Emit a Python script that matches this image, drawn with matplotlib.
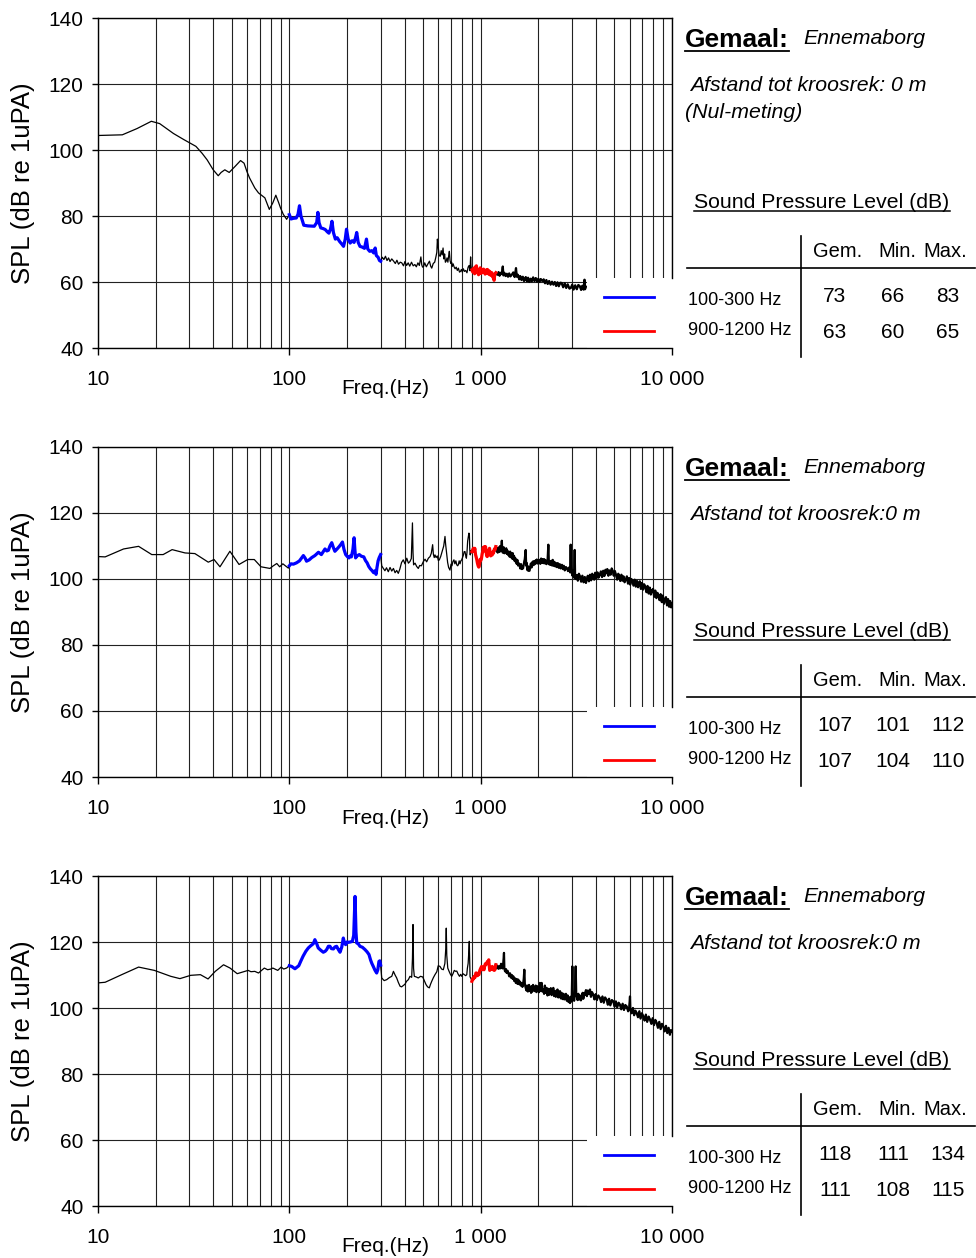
import matplotlib
matplotlib.use("Agg")
import matplotlib.pyplot as plt
import numpy as np
from matplotlib.lines import Line2D
from matplotlib.patches import Rectangle
from matplotlib.ticker import NullFormatter

plt.rcParams['font.family'] = ['Liberation Sans', 'DejaVu Sans']

spec_nul = [
    (10, 104.4), (13.4, 104.6), (16, 106.5), (19, 108.7), (21, 108.0), (24.8, 105.0), (28, 103.2),
    (32.5, 101.1), (35, 99.0), (37.2, 97.0), (40, 94.0), (42.5, 92.2), (44, 93.2), (46, 94.0),
    (48.5, 93.2), (52, 95.0), (55.6, 96.8), (58, 96.0), (60, 93.5), (62, 91.5), (66, 88.5), (69, 87.0),
    (74.5, 85.5), (78.6, 82.0), (82, 84.0), (85, 86.3), (88, 84.0), (90, 82.4), (93, 80.5), (96.8, 79.0),
    (100, 80.4), (102, 79.1), (105, 79.3), (108.7, 79.4), (111, 80.5), (113, 83.1), (115, 80.0),
    (119, 77.2), (125, 77.0), (135, 76.9), (139, 78.0), (141, 81.1), (143, 78.0), (146, 76.4),
    (150, 76.2), (154, 75.9), (158, 75.2), (161, 74.8), (164, 76.0), (167, 78.4), (170, 75.0),
    (174, 73.0), (178, 73.4), (183, 72.3), (188, 71.5), (192, 70.8), (196, 73.0), (199, 76.0),
    (203, 73.0), (208, 71.8), (213, 72.5), (218, 72.0), (222, 73.5), (225, 75.0), (229, 72.0),
    (234, 70.8), (240, 70.6), (247, 70.2), (253, 73.0), (257, 70.0), (263, 69.3), (270, 69.5),
    (276, 68.8), (281, 70.3), (285, 68.0), (291, 67.5), (296, 66.5), (300, 66.3),
    (306, 67.5), (312, 66.8), (318, 67.8), (324, 66.5), (330, 67.3), (336, 66.2), (343, 67.0),
    (351, 66.3), (358, 65.6), (365, 66.6), (372, 65.4), (380, 66.0), (387, 65.8), (395, 64.9),
    (402, 66.2), (410, 65.0), (418, 65.8), (426, 64.8), (435, 66.0), (444, 64.9), (453, 65.3),
    (461, 64.6), (470, 65.8), (478, 65.0), (487, 67.6), (492, 65.2), (497, 64.5), (503, 64.7),
    (510, 65.8), (520, 64.6), (530, 65.5), (540, 66.3), (548, 64.8), (555, 64.2), (565, 65.6),
    (575, 66.0), (583, 67.5), (590, 69.0), (594, 73.0), (600, 70.5), (607, 68.0), (615, 67.8),
    (622, 69.5), (629, 68.2), (636, 70.3), (642, 67.0), (648, 68.5), (654, 66.0), (660, 66.3),
    (667, 67.3), (674, 66.0), (680, 67.8), (686, 69.3), (692, 66.5), (699, 65.6), (705, 66.0),
    (710, 64.7), (718, 65.5), (726, 64.6), (735, 64.0), (745, 64.5), (755, 63.5), (765, 64.2),
    (775, 63.0), (784, 63.2), (793, 63.8), (802, 63.0), (812, 64.0), (823, 63.2), (835, 63.5),
    (848, 62.8), (860, 64.5), (870, 65.0), (880, 63.4), (886, 67.6), (890, 65.0), (895, 63.8),
    (900, 63.7), (910, 63.0), (920, 64.2), (930, 62.5), (940, 64.6), (950, 64.9), (958, 62.8),
    (966, 63.8), (975, 62.2), (985, 63.6), (995, 64.3), (1005, 62.6), (1015, 63.8), (1025, 62.9),
    (1035, 63.9), (1045, 63.3), (1055, 62.4), (1065, 63.6), (1075, 62.8), (1085, 63.8), (1095, 62.5),
    (1105, 63.4), (1115, 62.2), (1125, 63.0), (1135, 62.0), (1145, 62.8), (1155, 61.5), (1165, 62.2),
    (1175, 60.5), (1185, 62.4), (1200, 62.8), (1215, 62.3), (1225, 62.2), (1240, 63.0), (1255, 61.9),
    (1270, 62.8), (1290, 62.4), (1305, 64.7), (1315, 62.0), (1330, 62.8), (1350, 61.8), (1370, 62.5),
    (1390, 61.6), (1410, 62.6), (1430, 61.7), (1455, 62.2), (1480, 62.9), (1505, 61.5), (1530, 64.2),
    (1545, 61.6), (1565, 62.2), (1590, 60.8), (1610, 61.8), (1635, 60.6), (1660, 61.6), (1685, 60.3),
    (1700, 60.7), (1720, 61.5), (1745, 60.2), (1770, 61.3), (1795, 60.0), (1825, 61.0), (1850, 60.2),
    (1880, 61.4), (1910, 60.3), (1940, 61.2), (1970, 60.1), (2000, 61.0), (2030, 60.0), (2060, 60.9),
    (2100, 60.3), (2135, 60.8), (2170, 59.6), (2205, 60.6), (2240, 59.4), (2280, 60.3), (2320, 59.2),
    (2360, 60.1), (2400, 59.2), (2440, 60.0), (2480, 58.8), (2520, 59.9), (2560, 58.7), (2610, 59.8),
    (2650, 59.7), (2700, 58.4), (2750, 59.6), (2800, 58.2), (2850, 59.3), (2910, 58.0), (2960, 58.2),
    (3010, 59.2), (3060, 57.7), (3120, 59.0), (3180, 57.8), (3240, 59.1), (3300, 58.7), (3350, 57.6),
    (3400, 58.9), (3450, 57.7), (3490, 60.7), (3510, 57.8), (3550, 58.6),
]

spec_2 = [
    (10, 106.8), (10.9, 106.7), (13.6, 109.1), (16.3, 109.9), (19.1, 107.4), (21.9, 107.4),
    (24.4, 108.9), (28.5, 107.9), (32.1, 107.7), (37.7, 105.1), (40.4, 105.9), (43.4, 103.7),
    (48.9, 108.4), (54.6, 104.4), (60.6, 105.9), (65.6, 105.9), (71.1, 103.7), (79.2, 103.2),
    (82, 103.9), (86, 104.7), (89, 103.7), (92.5, 104.6), (98.8, 103.3),
    (100, 104.0), (102, 104.6), (105, 104.5), (109, 104.9), (113, 105.5), (118.4, 107.1), (121, 106.3),
    (123, 105.4), (127, 105.8), (131, 106.5), (136, 107.1), (142, 108.1), (147, 107.4), (153.6, 109.1),
    (157, 108.5), (160, 108.7), (163, 110.0), (166.6, 111.0), (170, 109.5), (173, 108.4), (177, 109.0),
    (182, 109.8), (186, 110.5), (189.5, 111.2), (193, 109.0), (197, 107.4), (201, 106.8), (205, 106.4),
    (208, 107.0), (211, 106.7), (215, 109.0), (218, 112.5), (220, 109.0), (222, 106.4), (226, 107.0),
    (232, 107.4), (238, 106.9), (245, 106.7), (250, 105.6), (255, 104.9), (260, 103.8), (265, 103.1),
    (270, 102.6), (276, 101.9), (280, 102.5), (284, 101.4), (287, 103.4), (291, 105.5), (295, 106.5),
    (300, 107.4),
    (304, 104.0), (310, 103.2), (316, 102.5), (322, 103.4), (329, 102.2), (336, 103.5), (343, 102.4),
    (350, 103.2), (357, 101.9), (364, 102.6), (371, 101.7), (378, 103.0), (386, 105.0), (394, 105.8),
    (402, 104.6), (411, 106.3), (419, 104.8), (427, 105.3), (434, 106.2), (440, 117.0), (443, 108.0),
    (446, 104.3), (454, 104.8), (463, 103.8), (472, 103.2), (480, 104.1), (490, 104.0), (502, 105.3),
    (512, 106.0), (522, 105.2), (533, 106.3), (544, 106.8), (552, 107.8), (561, 110.4), (566, 107.5),
    (572, 106.5), (577, 107.3), (585, 106.5), (593, 107.0), (601, 105.6), (608, 105.8), (618, 106.8),
    (630, 108.5), (641, 110.0), (646, 111.5), (651, 112.9), (656, 110.5), (664, 107.8), (672, 105.0),
    (680, 103.5), (691, 102.7), (700, 104.5), (708, 104.0), (716, 105.3), (725, 105.8), (733, 104.6),
    (742, 105.5), (750, 104.3), (758, 104.0), (764, 104.3), (772, 105.5), (780, 104.6), (788, 105.5),
    (796, 105.8), (804, 106.5), (812, 107.2), (820, 108.3), (828, 108.3), (836, 107.0), (842, 106.3),
    (848, 108.0), (855, 111.5), (862, 112.8), (868, 113.9), (873, 113.5), (877, 109.0), (882, 107.3),
    (888, 108.6), (894, 107.9), (900, 108.3),
    (908, 108.8), (916, 109.3), (924, 108.4), (932, 109.3), (940, 107.4), (948, 106.6), (955, 105.8),
    (962, 104.8), (970, 104.0), (977, 103.6), (982, 103.8), (988, 104.8), (995, 106.0), (1002, 105.6),
    (1010, 106.3), (1018, 107.6), (1025, 108.3), (1032, 109.6), (1040, 108.5), (1048, 109.8),
    (1055, 108.7), (1060, 109.8), (1068, 108.3), (1075, 107.0), (1082, 106.8), (1090, 107.3),
    (1098, 108.5), (1105, 108.6), (1112, 109.3), (1120, 108.1), (1128, 107.0), (1136, 107.6),
    (1143, 107.3), (1150, 107.3), (1158, 108.2), (1166, 107.8), (1175, 108.8), (1183, 109.2),
    (1190, 108.9), (1200, 109.8),
    (1210, 108.4), (1220, 109.3), (1228, 108.0), (1237, 108.8), (1246, 109.6), (1255, 108.2),
    (1265, 110.0), (1275, 108.5), (1283, 109.5), (1290, 111.6), (1296, 109.0), (1303, 108.0),
    (1310, 108.3), (1320, 109.6), (1330, 107.8), (1340, 109.0), (1350, 108.2), (1360, 109.3),
    (1370, 107.6), (1380, 108.6), (1392, 107.3), (1404, 108.2), (1415, 106.8), (1426, 108.3),
    (1437, 106.6), (1448, 107.8), (1460, 106.2), (1472, 107.8), (1484, 106.0), (1495, 107.0),
    (1507, 105.4), (1518, 106.3), (1530, 105.3), (1542, 104.6), (1555, 105.8), (1568, 104.1),
    (1580, 104.8), (1595, 104.3), (1610, 103.2), (1625, 104.5), (1640, 103.0), (1655, 103.8),
    (1665, 103.2), (1680, 104.5), (1700, 106.0), (1719, 108.8), (1726, 105.5), (1734, 104.0),
    (1742, 104.8), (1750, 103.0), (1760, 102.6), (1772, 103.8), (1785, 102.5), (1800, 102.5),
    (1815, 103.6), (1830, 104.7), (1845, 103.5), (1860, 105.0), (1875, 105.3), (1890, 104.2),
    (1905, 105.4), (1920, 104.5), (1935, 105.6), (1950, 104.8), (1965, 105.9), (1980, 104.7),
    (1995, 105.6), (2010, 104.9), (2030, 105.8), (2050, 104.6), (2070, 106.2), (2090, 104.9),
    (2110, 106.0), (2130, 104.8), (2150, 106.0), (2170, 104.7), (2190, 105.6), (2210, 104.5),
    (2235, 105.3), (2258, 110.4), (2270, 105.0), (2285, 104.4), (2300, 105.3), (2320, 104.3),
    (2340, 105.5), (2360, 104.1), (2380, 105.8), (2405, 104.0), (2430, 105.2), (2455, 103.8),
    (2480, 104.8), (2505, 103.6), (2530, 104.8), (2560, 103.4), (2590, 104.5), (2620, 103.2),
    (2660, 104.3), (2690, 103.0), (2720, 104.0), (2750, 102.6), (2790, 103.6), (2830, 103.2),
    (2860, 102.4), (2900, 103.5), (2935, 102.0), (2954, 110.4), (2970, 104.0), (3000, 101.7),
    (3020, 101.0), (3050, 102.6), (3080, 100.4), (3100, 108.8), (3115, 101.6), (3140, 100.0),
    (3180, 101.2), (3220, 99.5), (3260, 101.6), (3310, 100.7), (3350, 99.2), (3400, 101.0),
    (3450, 99.0), (3500, 100.6), (3550, 98.8), (3580, 99.7), (3630, 101.0), (3680, 99.3),
    (3730, 101.3), (3780, 99.6), (3830, 101.6), (3870, 100.7), (3920, 99.8), (3970, 101.9),
    (4020, 100.2), (4080, 102.0), (4130, 100.4), (4190, 101.2), (4250, 102.3), (4310, 100.6),
    (4370, 102.5), (4430, 100.9), (4490, 102.8), (4530, 101.7), (4590, 103.0), (4650, 101.0),
    (4710, 102.6), (4780, 101.3), (4840, 103.2), (4900, 102.5), (4960, 101.0), (5030, 102.4),
    (5100, 101.2), (5170, 99.8), (5240, 101.6), (5300, 100.7), (5370, 99.4), (5440, 101.3),
    (5510, 99.5), (5580, 100.8), (5650, 99.0), (5730, 99.7), (5810, 100.8), (5890, 98.6),
    (5970, 100.3), (6050, 98.3), (6120, 100.0), (6200, 99.7), (6290, 98.0), (6380, 99.8),
    (6470, 97.7), (6560, 99.4), (6650, 97.5), (6700, 98.7), (6790, 99.3), (6880, 97.0),
    (6970, 98.8), (7060, 96.8), (7150, 98.4), (7250, 97.7), (7350, 96.0), (7450, 97.9),
    (7550, 95.6), (7650, 97.4), (7750, 95.3), (7850, 96.6), (7960, 97.0), (8070, 94.6),
    (8180, 96.5), (8290, 94.2), (8400, 95.8), (8490, 95.1), (8600, 93.6), (8720, 95.4),
    (8840, 93.0), (8960, 95.0), (9080, 92.5), (9180, 93.6), (9300, 94.5), (9420, 92.0),
    (9540, 93.9), (9660, 91.6), (9780, 93.3), (9900, 91.4), (10000, 92.6),
]

spec_3 = [
    (10, 107.6), (10.9, 107.8), (13.3, 110.1), (16.3, 112.4), (19.7, 111.4), (24, 109.6), (26.8, 108.9),
    (30.5, 109.9), (34.3, 110.1), (37.6, 108.8), (41, 111.1), (45.3, 113.1), (49, 112.1), (53.4, 110.4),
    (57, 110.9), (60.9, 111.4), (63, 111.0), (66, 111.1), (69, 110.6), (74, 112.1), (77, 111.6),
    (80, 111.8), (82, 112.1), (87, 111.4), (90.6, 112.4), (93.5, 111.8), (96.7, 112.1), (100, 112.8),
    (102.8, 112.6), (107, 111.9), (112, 112.8), (115, 114.3), (118, 115.7), (122, 117.2), (125.7, 118.2),
    (129, 118.8), (133.5, 119.5), (136, 120.7), (139, 119.5), (141.6, 118.2), (146, 117.5),
    (150.5, 116.9), (154, 117.2), (156.7, 117.7), (160, 118.7), (163, 118.7), (166, 118.0),
    (170, 117.9), (173, 118.5), (176.7, 118.7), (180, 117.8), (184, 116.9), (188, 118.5),
    (191.5, 121.2), (194, 119.8), (197, 119.2), (200, 120.0), (203.5, 119.9), (208, 120.0),
    (213.5, 120.2), (217, 122.0), (220.5, 133.8), (223, 123.0), (225, 119.7), (229, 119.5),
    (234, 118.7), (241, 118.4), (248.6, 117.7), (255, 117.0), (260.8, 116.2), (266, 114.5),
    (270, 113.5), (274.6, 112.6), (280, 111.5), (286, 110.6), (290, 111.6), (294, 114.1),
    (297, 114.3), (300, 113.0),
    (304, 109.1), (313, 108.3), (323, 108.6), (333, 109.2), (343, 109.6), (350, 111.1), (357, 110.0),
    (364, 109.1), (371, 107.8), (379, 106.6), (386, 106.4), (394, 106.8), (402, 107.2), (410, 108.1),
    (419, 108.6), (427, 109.6), (436, 109.3), (440, 115.0), (443, 125.3), (446, 112.0), (450, 109.6),
    (461, 109.4), (472, 109.1), (485, 109.6), (498, 109.4), (508, 108.2), (518, 107.1), (528, 106.4),
    (539, 106.1), (547, 107.2), (555, 108.1), (566, 109.2), (577, 110.1), (590, 111.0), (600, 112.8),
    (613, 112.6), (625, 111.8), (638, 111.6), (650, 113.5), (657, 118.0), (661, 124.2), (665, 116.0),
    (673, 112.1), (685, 111.0), (695, 110.2), (706, 109.6), (718, 110.5), (728, 111.4), (740, 111.1),
    (750, 111.2), (762, 110.3), (775, 109.6), (786, 110.2), (796, 109.6), (808, 110.4), (822, 110.1),
    (835, 109.8), (846, 110.1), (852, 112.0), (860, 113.5), (866, 116.5), (872, 120.2), (876, 114.0),
    (880, 109.5), (886, 109.1), (893, 108.8), (900, 108.1),
    (910, 109.0), (918, 108.8), (926, 109.6), (935, 109.3), (944, 110.6), (953, 110.6), (962, 109.8),
    (971, 110.4), (980, 110.1), (990, 111.4), (1000, 112.0), (1012, 112.6), (1022, 111.6),
    (1032, 112.3), (1041, 111.6), (1050, 112.8), (1058, 113.4), (1065, 113.1), (1075, 113.6),
    (1085, 114.1), (1094, 113.8), (1102, 114.6), (1108, 113.0), (1115, 111.4), (1124, 112.0),
    (1133, 111.8), (1142, 112.4), (1150, 112.6), (1160, 111.6), (1170, 112.0), (1179, 111.4),
    (1187, 111.6), (1194, 112.6), (1200, 113.1),
    (1212, 112.0), (1225, 112.8), (1240, 111.9), (1252, 112.6), (1265, 112.0), (1278, 113.4),
    (1288, 113.1), (1300, 112.0), (1312, 113.2), (1324, 116.7), (1330, 112.0), (1341, 111.1),
    (1355, 111.8), (1368, 110.6), (1382, 111.3), (1395, 110.6), (1410, 109.6), (1425, 110.5),
    (1440, 109.2), (1455, 110.0), (1470, 108.8), (1482, 109.6), (1497, 108.2), (1512, 109.0),
    (1527, 107.6), (1542, 108.8), (1558, 107.3), (1573, 108.6), (1590, 107.2), (1605, 108.0),
    (1620, 106.8), (1637, 107.6), (1653, 106.4), (1671, 107.6), (1680, 109.0), (1691, 111.6),
    (1700, 107.5), (1719, 106.1), (1735, 105.3), (1750, 106.8), (1765, 105.0), (1775, 105.6),
    (1790, 107.0), (1805, 105.2), (1820, 106.4), (1834, 104.6), (1848, 106.6), (1862, 105.0),
    (1878, 107.0), (1895, 105.4), (1910, 106.3), (1923, 105.1), (1940, 106.8), (1958, 104.8),
    (1975, 106.6), (1990, 105.2), (2001, 106.1), (2020, 104.8), (2040, 107.6), (2060, 105.2),
    (2084, 107.6), (2100, 105.0), (2126, 105.6), (2145, 104.3), (2165, 106.8), (2190, 104.6),
    (2213, 106.1), (2235, 103.8), (2260, 105.8), (2280, 104.0), (2303, 104.5), (2325, 106.0),
    (2350, 103.9), (2375, 105.5), (2398, 106.1), (2420, 103.6), (2445, 105.2), (2470, 103.4),
    (2496, 104.0), (2520, 105.6), (2545, 103.2), (2570, 104.8), (2598, 105.1), (2625, 102.9),
    (2650, 104.6), (2680, 102.7), (2710, 104.3), (2735, 102.6), (2759, 103.5), (2790, 104.3),
    (2820, 102.2), (2850, 103.8), (2880, 101.8), (2910, 103.2), (2931, 101.5), (2960, 103.4),
    (2990, 102.0), (3014, 112.6), (3030, 103.5), (3050, 103.5), (3080, 102.2), (3110, 104.3),
    (3138, 112.6), (3160, 103.6), (3175, 104.0), (3210, 102.4), (3240, 104.3), (3270, 102.6),
    (3300, 103.8), (3340, 102.3), (3372, 103.0), (3410, 104.6), (3440, 102.8), (3480, 104.6),
    (3511, 104.0), (3550, 105.4), (3590, 103.6), (3630, 105.3), (3680, 104.2), (3728, 105.6),
    (3770, 103.4), (3820, 104.8), (3880, 104.0), (3930, 102.6), (3990, 104.2), (4050, 102.4),
    (4120, 103.8), (4205, 103.0), (4260, 101.8), (4330, 103.5), (4400, 101.6), (4470, 103.2),
    (4556, 102.5), (4620, 101.0), (4690, 102.8), (4760, 100.8), (4850, 102.4), (4936, 102.0),
    (5010, 100.4), (5090, 102.0), (5170, 100.2), (5260, 101.6), (5348, 101.0), (5430, 99.6),
    (5520, 101.3), (5610, 99.4), (5700, 100.9), (5795, 100.5), (5900, 99.0), (5980, 100.3),
    (6032, 103.5), (6060, 99.5), (6150, 98.4), (6250, 100.0), (6340, 97.8), (6436, 99.2),
    (6536, 98.5), (6640, 97.2), (6750, 99.0), (6850, 96.8), (6960, 98.4), (7082, 97.5),
    (7190, 96.2), (7300, 98.0), (7420, 95.8), (7550, 97.4), (7674, 96.5), (7800, 95.2),
    (7920, 96.9), (8050, 94.8), (8180, 96.4), (8315, 95.5), (8440, 94.0), (8580, 95.8),
    (8720, 93.6), (8860, 95.2), (9010, 94.4), (9150, 92.9), (9300, 94.6), (9450, 92.4),
    (9600, 94.0), (9750, 91.9), (9880, 93.3), (10000, 92.9),
]

spectra = [spec_nul, spec_2, spec_3]
gemaal = 'Ennemaborg'
ondertitels = [['Afstand tot kroosrek: 0 m', '(Nul-meting)'],
               ['Afstand tot kroosrek:0 m'],
               ['Afstand tot kroosrek:0 m']]
banden = [(100, 300), (900, 1200)]
band_labels = ['100-300 Hz', '900-1200 Hz']
band_kleuren = ['#0000ff', '#ff0000']
kolommen = ['Gem.', 'Min.', 'Max.']
tabellen = [[[73, 66, 83], [63, 60, 65]],
            [[107, 101, 112], [107, 104, 110]],
            [[118, 111, 134], [111, 108, 115]]]

W, H = 976, 1258
fig = plt.figure(figsize=(W / 100, H / 100), dpi=100)


def fx(px):
    return px / W


def fy(py):
    return 1 - py / H


def tekst(x, y, s, **kw):
    kw.setdefault('va', 'baseline')
    fig.text(fx(x), fy(y), s, **kw)


def lijn(x0, x1, y0, y1, lw=1.2):
    fig.add_artist(Line2D([fx(x0), fx(x1)], [fy(y0), fy(y1)], color='black', lw=lw,
                          transform=fig.transFigure))


for i, spec in enumerate(spectra):
    top = 18 + 429 * i
    off = top - 18
    ax = fig.add_axes([fx(98), fy(top + 330), 574 / W, 330 / H])
    f = np.array([p[0] for p in spec])
    s = np.array([p[1] for p in spec])

    ax.plot(f, s, color='black', lw=0.9, zorder=2)
    hoog = f >= 1200
    ax.plot(f[hoog], s[hoog], color='black', lw=1.6, zorder=2)
    for (lo, hi), kleur in zip(banden, band_kleuren):
        m = (f >= lo) & (f <= hi)
        ax.plot(f[m], s[m], color=kleur, lw=2.3, zorder=2.1)

    ax.set_xscale('log')
    ax.set_xlim(10, 10000)
    ax.set_ylim(40, 140)
    ax.set_xticks([10, 100, 1000, 10000], ['10', '100', '1 000', '10 000'])
    ax.xaxis.set_minor_formatter(NullFormatter())
    ax.set_yticks(range(40, 141, 20))
    ax.tick_params(axis='x', which='major', direction='out', length=5, width=1, pad=11, labelsize=15)
    ax.tick_params(axis='x', which='minor', length=0)
    ax.tick_params(axis='y', direction='out', length=4.3, width=1, pad=6, labelsize=15)
    ax.set_axisbelow(True)
    ax.grid(True, which='both', axis='x', color='#222222', lw=0.8)
    ax.grid(True, which='major', axis='y', color='#222222', lw=0.8)
    for sp in ax.spines.values():
        sp.set_linewidth(1.0)
        sp.set_color('black')
    ax.spines['right'].set_bounds(61.2, 140)

    # wit legendavlak in de rechteronderhoek
    ax.add_patch(Rectangle((0.852, 0.0), 0.16, 0.212, transform=ax.transAxes, facecolor='white',
                           edgecolor='none', zorder=2.3, clip_on=False))
    ax.plot([0.8815, 0.9686], [0.1545, 0.1545], transform=ax.transAxes, color=band_kleuren[0],
            lw=2, clip_on=False, zorder=3)
    ax.plot([0.8815, 0.9686], [0.0515, 0.0515], transform=ax.transAxes, color=band_kleuren[1],
            lw=2, clip_on=False, zorder=3)

    fig.text(fx(23.5), fy(183 + off), 'SPL (dB re 1uPA)', rotation=90, ha='center', va='center',
             fontsize=18.5)
    fig.text(fx(385), fy(389 + off), 'Freq.(Hz)', ha='center', va='center', fontsize=15)

    # tekst rechts
    tekst(685, 46.7 + off, 'Gemaal:', fontsize=19, fontweight='bold')
    lijn(685, 789, 50.5 + off, 50.5 + off, lw=1.3)
    tekst(803, 44 + off, gemaal, fontsize=15.3, style='italic')
    tekst(690, 90.7 + off, ondertitels[i][0], fontsize=15.3, style='italic')
    if len(ondertitels[i]) > 1:
        tekst(685, 118.5 + off, ondertitels[i][1], fontsize=15.3, style='italic')
    tekst(693.5, 208.3 + off, 'Sound Pressure Level (dB)', fontsize=15.3)
    lijn(693.5, 950, 211 + off, 211 + off, lw=1.1)

    for xc, k in zip([838, 897, 945.5], kolommen):
        tekst(xc, 257.3 + off, k, fontsize=14.5, ha='center')
    lijn(801, 801, 236 + off, 357 + off)
    lijn(687, 975, 268.3 + off, 268.3 + off)
    for r, (lab, rij) in enumerate(zip(band_labels, tabellen[i])):
        tekst(688, 305 + 30 * r + off, lab, fontsize=13)
        for xc, v in zip([835, 893, 948], rij):
            tekst(xc, 301.7 + 36 * r + off, str(v), fontsize=15, ha='center')

fig.savefig('out.png', dpi=100)
